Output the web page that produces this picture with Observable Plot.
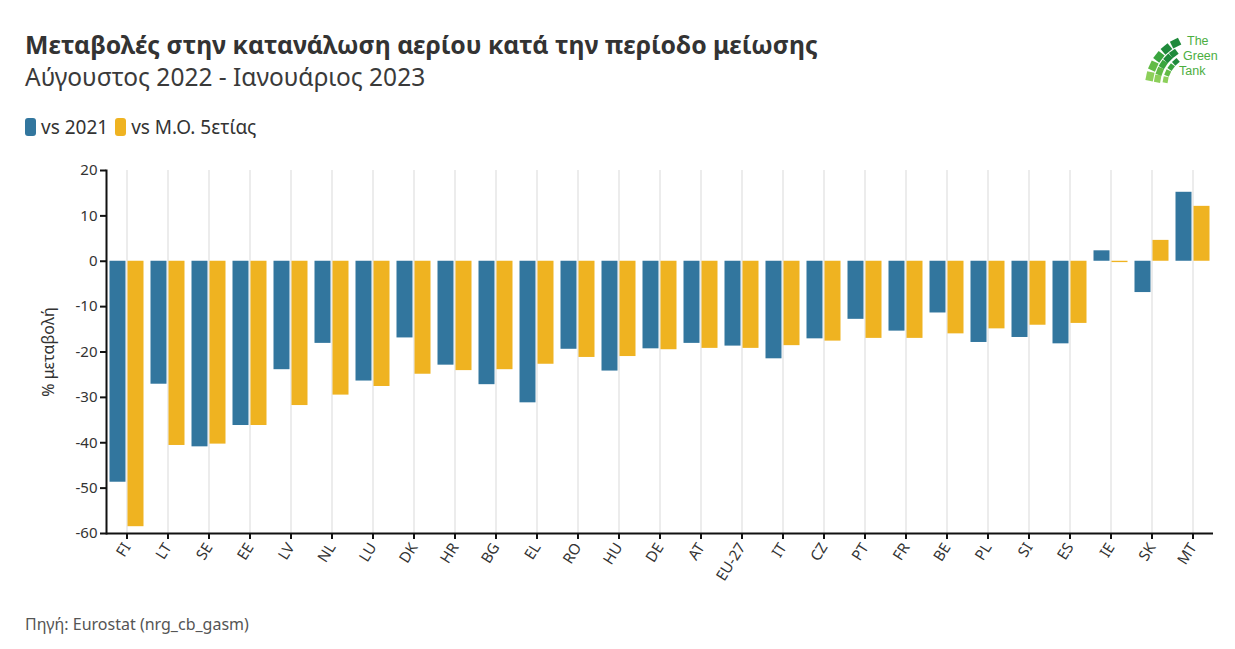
<!DOCTYPE html>
<html>
<head>
<meta charset="utf-8">
<script src="https://cdn.jsdelivr.net/npm/d3@7"></script>
<script src="https://cdn.jsdelivr.net/npm/@observablehq/plot@0.6"></script>
<style>
  body { margin: 0; background: #fff; font-family: "Noto Sans", sans-serif; color: #333; }
  #page { position: relative; width: 1235px; height: 649px; overflow: hidden; }
  #title { position: absolute; left: 25px; top: 27px; font-size: 24.8px; font-weight: 700; color: #333; white-space: nowrap; }
  #subtitle { position: absolute; left: 25px; top: 60px; font-size: 24.5px; font-weight: 400; color: #3a3a3a; white-space: nowrap; }
  #legend { position: absolute; left: 25px; top: 114px; font-size: 19px; color: #333; display: flex; align-items: center; white-space: nowrap; }
  #legend .sw { display: inline-block; width: 11px; height: 18px; border-radius: 3px; margin-right: 5px; }
  #legend .item { display: flex; align-items: center; margin-right: 7px; }
  #chart { position: absolute; left: 0; top: 150px; }
  #source { position: absolute; left: 25px; top: 613px; font-size: 16px; color: #555; white-space: nowrap; }
  #logo { position: absolute; left: 1145px; top: 28px; }
</style>
</head>
<body>
<div id="page">
  <div id="title">Μεταβολές στην κατανάλωση αερίου κατά την περίοδο μείωσης</div>
  <div id="subtitle">Αύγουστος 2022 - Ιανουάριος 2023</div>
  <div id="legend"></div>
  <div id="chart"></div>
  <div id="source">Πηγή: Eurostat (nrg_cb_gasm)</div>
  <svg id="logo" width="90" height="62" viewBox="0 0 90 62"></svg>
</div>
<script>
// Change in gas consumption, Aug 2022 - Jan 2023 (% change)
const countries = ["FI","LT","SE","EE","LV","NL","LU","DK","HR","BG","EL","RO","HU","DE","AT","EU-27","IT","CZ","PT","FR","BE","PL","SI","ES","IE","SK","MT"];
const vs2021 = [-48.7,-27.1,-40.9,-36.2,-23.9,-18.1,-26.4,-16.9,-22.9,-27.2,-31.2,-19.4,-24.2,-19.3,-18.1,-18.7,-21.5,-17.1,-12.8,-15.4,-11.4,-17.9,-16.8,-18.2,2.3,-6.9,15.2];
const vs5yrAvg = [-58.5,-40.6,-40.3,-36.2,-31.8,-29.5,-27.6,-24.9,-24.1,-23.9,-22.7,-21.2,-21.0,-19.5,-19.2,-19.2,-18.6,-17.6,-17.0,-17.0,-16.0,-14.9,-14.1,-13.7,-0.3,4.6,12.1];
const seriesNames = ["vs 2021", "vs Μ.Ο. 5ετίας"];
const seriesColors = ["#32769e", "#efb321"];
const yTicks = [20, 10, 0, -10, -20, -30, -40, -50, -60];

const W = 1235, H = 450, ML = 106, MR = 22, MT = 20, MB = 67;

// legend
const legend = document.getElementById("legend");
seriesNames.forEach((name, i) => {
  const item = document.createElement("span");
  item.className = "item";
  item.innerHTML = `<span class="sw" style="background:${seriesColors[i]}"></span>${name}`;
  legend.appendChild(item);
});

// band width of each country slot, used to split it into two side-by-side bars
const band = d3.scaleBand().domain(countries).range([ML, W - MR]).padding(0);
const bw = band.bandwidth();

const rows = countries.map((c, i) => ({country: c, a: vs2021[i], b: vs5yrAvg[i]}));

const chart = Plot.plot({
  width: W,
  height: H,
  marginLeft: ML,
  marginRight: MR,
  marginTop: MT,
  marginBottom: MB,
  style: {fontFamily: "Noto Sans, sans-serif", fontSize: "15px", color: "#333", background: "transparent"},
  x: {domain: countries, padding: 0, label: null},
  y: {domain: [-60, 20], label: null},
  marks: [
    Plot.gridX({stroke: "#e6e6e6", strokeOpacity: 1, strokeWidth: 1.5}),
    Plot.barY(rows, {x: "country", y: "a", fill: seriesColors[0], insetLeft: 3.5, insetRight: bw / 2 + 1}),
    Plot.barY(rows, {x: "country", y: "b", fill: seriesColors[1], insetLeft: bw / 2 + 1, insetRight: 3.5}),
    Plot.ruleY([-60], {stroke: "#111", strokeWidth: 2}),
    Plot.frame({anchor: "left", stroke: "#111", strokeWidth: 2}),
    Plot.axisY({
      ticks: yTicks,
      tickFormat: d => String(d),
      tickSize: 6,
      tickPadding: 3,
      stroke: "#111",
      strokeWidth: 2,
      fontSize: 15,
      label: null
    }),
    Plot.axisY({
      ticks: [],
      tickSize: 0,
      label: "% μεταβολή",
      labelAnchor: "center",
      labelArrow: "none",
      labelOffset: 64,
      fontSize: 16
    }),
    Plot.axisX({
      tickRotate: -58,
      tickSize: 6,
      tickPadding: 5,
      stroke: "#111",
      strokeWidth: 2,
      fontSize: 15,
      label: null
    })
  ]
});
document.getElementById("chart").appendChild(chart);

// logo: fan of green tiles curving round the name
const logo = d3.select("#logo");
const greens = ["#1f8a3b", "#3aa53f", "#62bb46", "#8ccf5a"];
const cx = 52, cy = 58;
const rings = [
  {r: 32, size: 6, from: 185, to: 235, n: 4},
  {r: 40, size: 7.5, from: 185, to: 240, n: 5},
  {r: 48, size: 9, from: 185, to: 250, n: 5}
];
rings.forEach(({r, size, from, to, n}) => {
  for (let k = 0; k < n; k++) {
    const deg = from + (k + 0.5) * (to - from) / n;
    const a = deg * Math.PI / 180;
    const x = cx + r * Math.cos(a), y = cy + r * Math.sin(a);
    logo.append("rect")
      .attr("x", -size / 2).attr("y", -size * 0.42)
      .attr("width", size).attr("height", size * 0.84)
      .attr("fill", greens[Math.min(3, Math.floor((n - 1 - k) * 4 / n))])
      .attr("transform", `translate(${x},${y}) rotate(${deg + 90})`);
  }
});
[["The", 42, 17], ["Green", 38, 32], ["Tank", 34, 47]].forEach(([t, x, y]) => {
  logo.append("text").attr("x", x).attr("y", y)
    .attr("font-family", "Liberation Sans, sans-serif").attr("font-size", 12.5)
    .attr("fill", "#4cae3f").text(t);
});
</script>
</body>
</html>
